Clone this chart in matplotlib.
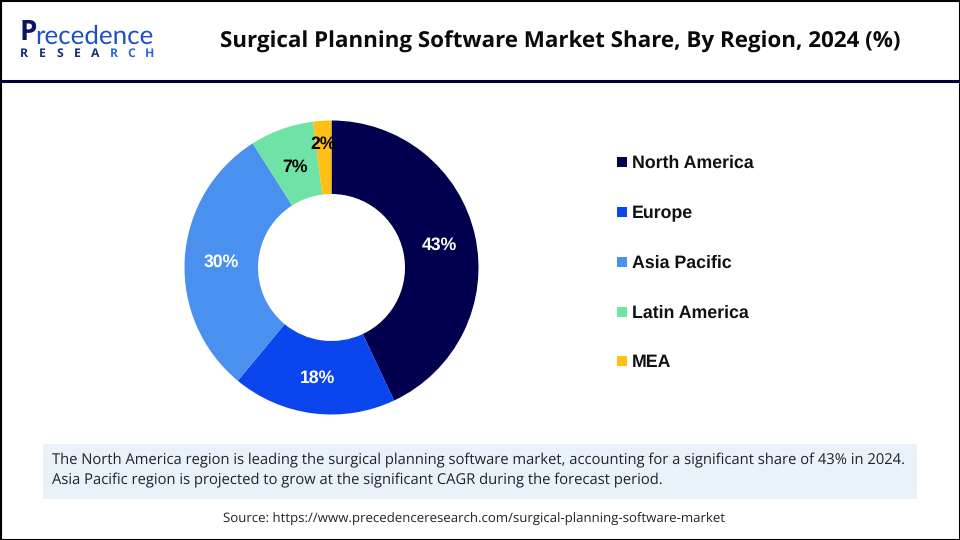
import math
import matplotlib
matplotlib.use("Agg")
import matplotlib.pyplot as plt
from matplotlib.patches import Rectangle

plt.rcParams["text.hinting"] = "no_hinting"

regions = ["North America", "Europe", "Asia Pacific", "Latin America", "MEA"]
shares = [43, 18, 30, 7, 2]
colors = ["#00004F", "#0B45EE", "#4A90EE", "#6EE3A5", "#FFC015"]
label_colors = ["white", "white", "white", "black", "black"]
title = "Surgical Planning Software Market Share, By Region, 2024 (%)"
note_lines = ["The North America region is leading the surgical planning software market, accounting for a significant share of 43% in 2024.",
              "Asia Pacific region is projected to grow at the significant CAGR during the forecast period."]
source = "Source: https://www.precedenceresearch.com/surgical-planning-software-market"

W, H = 960, 540
fig = plt.figure(figsize=(9.6, 5.4), dpi=100, facecolor="white")
bg = fig.add_axes([0, 0, 1, 1])
bg.set_xlim(0, W); bg.set_ylim(H, 0); bg.axis("off")

# frame and header rule
bg.add_patch(Rectangle((0.5, 0.5), W - 1, H - 1, fill=False, ec="black", lw=1.5))
bg.plot([0, W], [81, 81], color="#00003C", lw=2.2, solid_capstyle="butt")

# logo
bg.text(19, 33, "P", fontsize=20, fontweight="bold", family="Open Sans", color="#0A1560", va="center", ha="left")
bg.text(35, 36, "recedence", fontsize=18.7, family="Lato", color="#1F4FC4", va="center", ha="left")
for i, ch in enumerate("RESEARCH"):
    bg.text(24 + i * 17.9, 53.5, ch, fontsize=8.8, fontweight="bold", family="Open Sans",
            color="#12307F" if i < 5 else "#2A6BD8", va="center", ha="center")

bg.text(560, 41.5, title, fontsize=16.1, fontweight="bold", family="Open Sans", color="#0A0A0A", va="center", ha="center")

# donut
cx, cy, r = 331.5, 267.5, 147
ax = fig.add_axes([(cx - r) / W, 1 - (cy + r) / H, 2 * r / W, 2 * r / H])
wedges, _ = ax.pie(shares, colors=colors, startangle=90, counterclock=False, radius=1,
                   wedgeprops=dict(width=0.5, linewidth=0))
ax.set_xlim(-1, 1); ax.set_ylim(-1, 1)
ax.set_aspect("equal")

total = sum(shares)
running = 0
for s, c in zip(shares, label_colors):
    mid = math.radians(90 - (running + s / 2) / total * 360)
    running += s
    rad = 0.855 if s == 2 else 0.75 - (0.015 if s == 7 else 0)
    ax.text(rad * math.cos(mid), rad * math.sin(mid) - 0.012, f"{s}%", color=c, fontsize=12.7, fontweight="bold",
            family="Liberation Sans", ha="center", va="center", clip_on=False)

# legend
ys = [162, 212, 262, 312, 361]
for name, col, y in zip(regions, colors, ys):
    bg.add_patch(Rectangle((617, y - 5), 10, 10, fc=col, ec="none"))
    bg.text(632, y + 1.5, name, fontsize=12.8, fontweight="bold", family="Liberation Sans", color="#111111", va="center", ha="left")

# note box
bg.add_patch(Rectangle((43, 444), 874, 55, fc="#E9F1FA", ec="none"))
for line, y in zip(note_lines, [460, 480.5]):
    bg.text(52, y, line, fontsize=10.6, family="Open Sans", color="#222222", va="center", ha="left")
bg.text(474, 519, source, fontsize=9.5, family="Open Sans", color="#222222", va="center", ha="center")

fig.savefig("out.png", dpi=100)
